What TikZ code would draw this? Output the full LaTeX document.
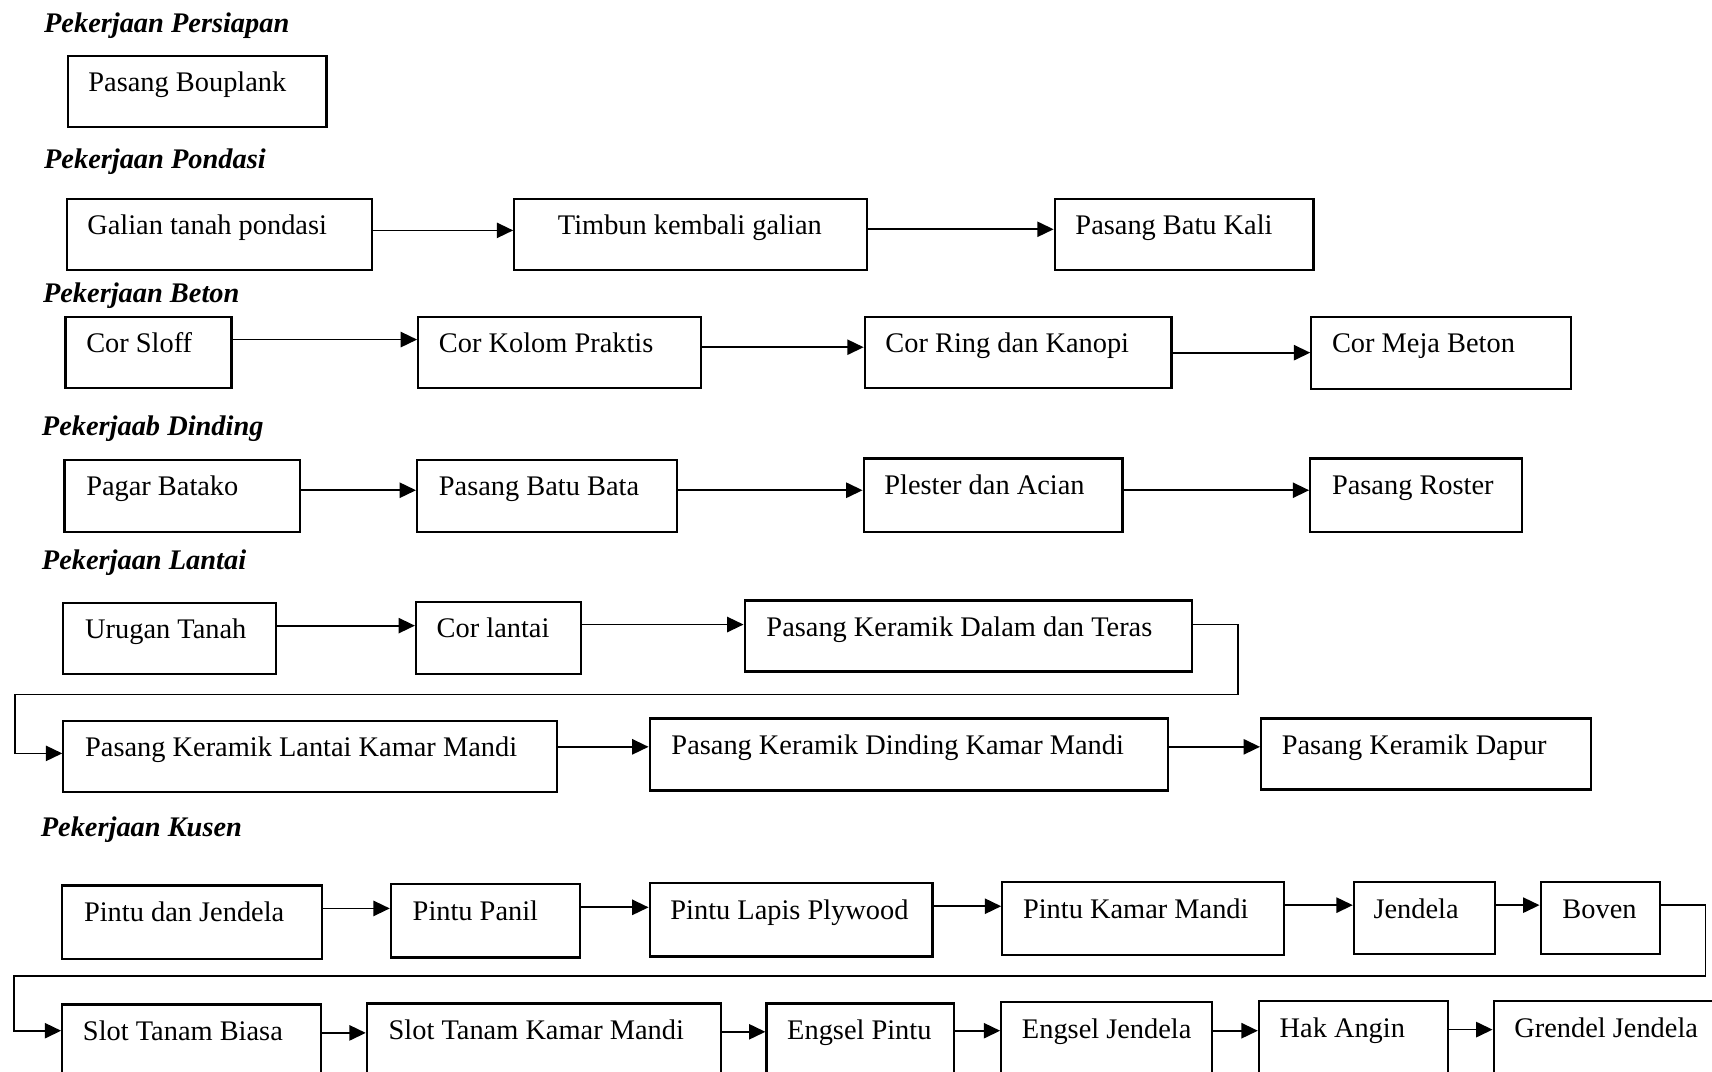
\documentclass[tikz,border=0pt]{standalone}
\usepackage{fontspec}
\setmainfont{Liberation Serif}
\usetikzlibrary{arrows.meta}
\newcommand\mybox[7]{%
  \pgfmathsetmacro\bxw{(#4-#2)*0.5}%
  \pgfmathsetmacro\bxd{(#5-#3)*0.5-16.5}%
  \pgfmathsetmacro\bxo{#6*0.5}%
  \node[box, text height=16.5pt, text depth=\bxd pt, anchor=north west] (#1) at (#2,#3)
    {\makebox[\bxw pt][l]{\hspace*{\bxo pt}#7}};%
}
\begin{document}
\begin{tikzpicture}[x=0.5pt,y=-0.5pt,
  box/.style={draw, line width=1pt, inner sep=0pt, font=\fontsize{13pt}{15pt}\selectfont},
  head/.style={inner sep=0pt, anchor=base west, font=\fontsize{13pt}{15pt}\selectfont\bfseries\itshape},
  arr/.style={line width=0.8pt, -{Triangle[length=7.5pt,width=7pt]}},
  wrap/.style={line width=0.8pt, -{Triangle[length=7.5pt,width=7pt]}}]
\useasboundingbox[fill=white] (0,0) rectangle (1568,981);
\clip (0,0) rectangle (1568,981);

% headings
\node[head] (h1) at (40,30) {Pekerjaan Persiapan};
\node[head] (h2) at (40,154) {Pekerjaan Pondasi};
\node[head] (h3) at (39,277) {Pekerjaan Beton};
\node[head] (h4) at (38,399) {Pekerjaab Dinding};
\node[head] (h5) at (38,522) {Pekerjaan Lantai};
\node[head] (h6) at (37,766) {Pekerjaan Kusen};

% Persiapan
\mybox{bouplank}{61}{50}{298}{115}{19}{Pasang Bouplank}

% Pondasi
\mybox{galian}{60}{181}{340}{246}{19}{Galian tanah pondasi}
\mybox{timbun}{470}{181}{793}{246}{40}{Timbun kembali galian}
\mybox{batukali}{965}{181}{1202}{246}{19}{Pasang Batu Kali}
\draw[arr] (galian.east |- 0,211) -- (timbun.west |- 0,211);
\draw[arr] (timbun.east |- 0,210) -- (batukali.west |- 0,210);

% Beton
\mybox{sloff}{59}{289}{211}{354}{19}{Cor Sloff}
\mybox{kolom}{382}{289}{641}{354}{19}{Cor Kolom Praktis}
\mybox{ring}{791}{289}{1072}{354}{19}{Cor Ring dan Kanopi}
\mybox{meja}{1200}{289}{1438}{355}{19}{Cor Meja Beton}
\draw[arr] (sloff.east |- 0,311) -- (kolom.west |- 0,311);
\draw[arr] (kolom.east |- 0,318) -- (ring.west |- 0,318);
\draw[arr] (ring.east |- 0,323) -- (meja.west |- 0,323);

% Dinding
\mybox{batako}{58}{420}{274}{486}{20}{Pagar Batako}
\mybox{batubata}{381}{420}{619}{486}{20}{Pasang Batu Bata}
\mybox{plester}{790}{419}{1027}{486}{19}{Plester dan Acian}
\mybox{roster}{1199}{419}{1393}{486}{20}{Pasang Roster}
\draw[arr] (batako.east |- 0,449) -- (batubata.west |- 0,449);
\draw[arr] (batubata.east |- 0,449) -- (plester.west |- 0,449);
\draw[arr] (plester.east |- 0,449) -- (roster.west |- 0,449);

% Lantai
\mybox{urugan}{57}{551}{252}{616}{20}{Urugan Tanah}
\mybox{corlantai}{380}{550}{531}{616}{19}{Cor lantai}
\mybox{kdalam}{681}{549}{1091}{614}{20}{Pasang Keramik Dalam dan Teras}
\mybox{klantai}{57}{659}{509}{724}{20}{Pasang Keramik Lantai Kamar Mandi}
\mybox{kdinding}{594}{657}{1069}{723}{20}{Pasang Keramik Dinding Kamar Mandi}
\mybox{kdapur}{1154}{657}{1456}{722}{19}{Pasang Keramik Dapur}
\draw[arr] (urugan.east |- 0,573) -- (corlantai.west |- 0,573);
\draw[arr] (corlantai.east |- 0,572) -- (kdalam.west |- 0,572);
\coordinate (la) at (1134,572);
\coordinate (lb) at (1134,636);
\coordinate (lc) at (14,636);
\coordinate (ld) at (14,690);
\draw[wrap] (kdalam.east |- la) -- (la) -- (lb) -- (lc) -- (ld) -- (klantai.west |- ld);
\draw[arr] (klantai.east |- 0,684) -- (kdinding.west |- 0,684);
\draw[arr] (kdinding.east |- 0,684) -- (kdapur.west |- 0,684);

% Kusen
\mybox{pdj}{56}{810}{294}{877}{20}{Pintu dan Jendela}
\mybox{panil}{357}{809}{530}{876}{20}{Pintu Panil}
\mybox{plywood}{594}{808}{853}{875}{19}{Pintu Lapis Plywood}
\mybox{pkm}{917}{807}{1175}{874}{19}{Pintu Kamar Mandi}
\mybox{jendela}{1239}{807}{1368}{873}{18}{Jendela}
\mybox{boven}{1410}{807}{1519}{873}{20}{Boven}
\draw[arr] (pdj.east |- 0,832) -- (panil.west |- 0,832);
\draw[arr] (panil.east |- 0,831) -- (plywood.west |- 0,831);
\draw[arr] (plywood.east |- 0,830) -- (pkm.west |- 0,830);
\draw[arr] (pkm.east |- 0,829) -- (jendela.west |- 0,829);
\draw[arr] (jendela.east |- 0,829) -- (boven.west |- 0,829);

\mybox{stb}{56}{919}{293}{992}{19}{Slot Tanam Biasa}
\mybox{stkm}{335}{918}{659}{992}{20}{Slot Tanam Kamar Mandi}
\mybox{epintu}{701}{918}{873}{992}{19}{Engsel Pintu}
\mybox{ejendela}{916}{917}{1109}{992}{19}{Engsel Jendela}
\mybox{hak}{1152}{916}{1325}{992}{19}{Hak Angin}
\mybox{grendel}{1367}{916}{1600}{992}{19}{Grendel Jendela}
\coordinate (ka) at (1562,829);
\coordinate (kb) at (1562,894);
\coordinate (kc) at (13,894);
\coordinate (kd) at (13,944);
\draw[wrap] (boven.east |- ka) -- (ka) -- (kb) -- (kc) -- (kd) -- (stb.west |- kd);
\draw[arr] (stb.east |- 0,946) -- (stkm.west |- 0,946);
\draw[arr] (stkm.east |- 0,945) -- (epintu.west |- 0,945);
\draw[arr] (epintu.east |- 0,944) -- (ejendela.west |- 0,944);
\draw[arr] (ejendela.east |- 0,944) -- (hak.west |- 0,944);
\draw[arr] (hak.east |- 0,943) -- (grendel.west |- 0,943);
\end{tikzpicture}
\end{document}
